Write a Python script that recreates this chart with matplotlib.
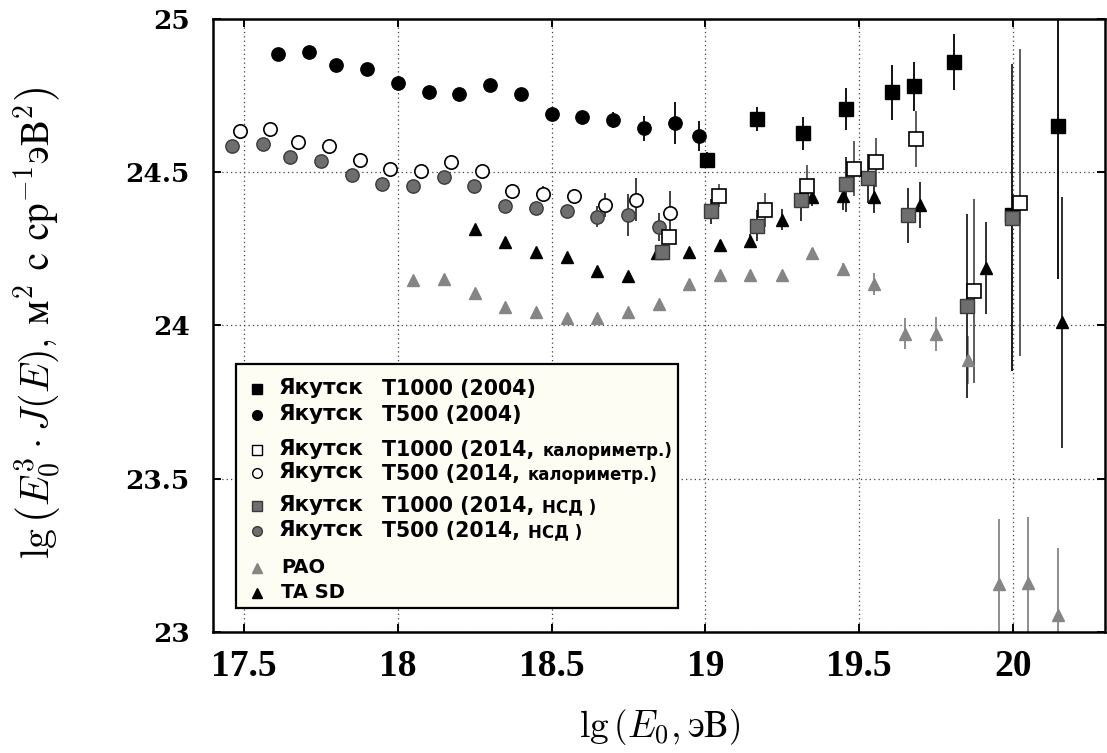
import matplotlib
matplotlib.use('Agg')
import matplotlib.pyplot as plt
from matplotlib.patches import Rectangle

plt.rcParams['mathtext.fontset'] = 'cm'

# Якутск T500 (2004)
x_t500_2004 = [17.61, 17.71, 17.80, 17.90, 18.00, 18.10, 18.20, 18.30, 18.40, 18.50, 18.60, 18.70, 18.80, 18.90, 18.98]
y_t500_2004 = [24.885, 24.891, 24.849, 24.836, 24.790, 24.761, 24.754, 24.785, 24.754, 24.691, 24.679, 24.671, 24.643, 24.660, 24.618]
e_t500_2004 = [0, 0, 0, 0, 0, 0, 0, 0, 0, 0.01, 0.01, 0.027, 0.04, 0.068, 0.05]

# Якутск T1000 (2004)
x_t1000_2004 = [19.006, 19.169, 19.317, 19.459, 19.608, 19.679, 19.808, 19.999, 20.147]
y_t1000_2004 = [24.540, 24.673, 24.627, 24.707, 24.761, 24.780, 24.859, 24.361, 24.651]
elo_t1000_2004 = [0.027, 0.04, 0.053, 0.068, 0.09, 0.08, 0.092, 0.51, 0.50]
ehi_t1000_2004 = [0.027, 0.04, 0.053, 0.068, 0.09, 0.08, 0.092, 0.30, 0.45]

# Якутск T1000 (2014, калориметр.)
x_t1000_cal = [18.882, 19.044, 19.193, 19.332, 19.484, 19.554, 19.684, 19.873, 20.023]
y_t1000_cal = [24.290, 24.423, 24.377, 24.455, 24.511, 24.532, 24.609, 24.113, 24.401]
e_t1000_cal = [0.02, 0.037, 0.055, 0.07, 0.09, 0.08, 0.092, 0.30, 0.50]

# Якутск T500 (2014, калориметр.)
x_t500_cal = [17.486, 17.585, 17.675, 17.775, 17.876, 17.974, 18.074, 18.174, 18.274, 18.373, 18.473, 18.574, 18.674, 18.774, 18.884]
y_t500_cal = [24.635, 24.640, 24.598, 24.586, 24.540, 24.511, 24.504, 24.535, 24.504, 24.440, 24.430, 24.421, 24.393, 24.410, 24.368]
e_t500_cal = [0.02, 0, 0, 0.01, 0, 0, 0, 0.02, 0.02, 0.02, 0.025, 0.025, 0.04, 0.07, 0.07]

# Якутск T1000 (2014, НСД)
x_t1000_nsd = [18.858, 19.018, 19.169, 19.310, 19.459, 19.529, 19.659, 19.850, 19.999]
y_t1000_nsd = [24.241, 24.372, 24.326, 24.408, 24.461, 24.480, 24.359, 24.064, 24.352]
e_t1000_nsd = [0.015, 0.04, 0.05, 0.068, 0.09, 0.08, 0.09, 0.30, 0.50]

# Якутск T500 (2014, НСД)
x_t500_nsd = [17.461, 17.560, 17.649, 17.750, 17.850, 17.950, 18.050, 18.149, 18.249, 18.348, 18.449, 18.550, 18.649, 18.749, 18.850]
y_t500_nsd = [24.584, 24.592, 24.551, 24.536, 24.491, 24.462, 24.455, 24.486, 24.455, 24.391, 24.383, 24.372, 24.355, 24.361, 24.321]
e_t500_nsd = [0, 0, 0, 0, 0, 0, 0, 0, 0, 0, 0, 0.02, 0.035, 0.068, 0.046]

# PAO
x_pao = [18.049, 18.149, 18.25, 18.348, 18.448, 18.549, 18.648, 18.749, 18.85, 18.948, 19.048,
         19.147, 19.25, 19.347, 19.448, 19.549, 19.649, 19.749, 19.854, 19.955, 20.049, 20.146]
y_pao = [24.149, 24.152, 24.105, 24.059, 24.043, 24.026, 24.026, 24.043, 24.070, 24.134, 24.165,
         24.165, 24.165, 24.238, 24.183, 24.136, 23.973, 23.973, 23.888, 23.158, 23.160, 23.054]
e_pao = [0, 0, 0, 0, 0, 0, 0, 0, 0, 0, 0, 0, 0.01, 0.015, 0.02, 0.035, 0.05, 0.055, 0.078, 0.21, 0.215, 0.22]

# TA SD
x_ta = [18.25, 18.348, 18.449, 18.550, 18.649, 18.749, 18.844, 18.948, 19.048, 19.147, 19.25,
        19.347, 19.448, 19.549, 19.698, 19.913, 20.160]
y_ta = [24.316, 24.274, 24.239, 24.225, 24.179, 24.160, 24.236, 24.239, 24.263, 24.277, 24.345,
        24.42, 24.423, 24.418, 24.393, 24.187, 24.010]
e_ta = [0.01, 0.01, 0.01, 0.01, 0.01, 0.01, 0.01, 0.01, 0.015, 0.02, 0.035, 0.03, 0.045, 0.05, 0.075, 0.15, 0.41]

xticks = [17.5, 18, 18.5, 19, 19.5, 20]
xticklabels = ['17.5', '18', '18.5', '19', '19.5', '20']
yticks = [23, 23.5, 24, 24.5, 25]
yticklabels = ['23', '23.5', '24', '24.5', '25']

gray = '#6e6e6e'
pao_gray = '#858585'

fig = plt.figure(figsize=(11.07, 7.53), dpi=100)
ax = fig.add_axes([0.1927, 0.1607, 0.8055, 0.8141])
ax.set_xlim(17.4, 20.3)
ax.set_ylim(23, 25)


def ebar(x, y, err, marker, ms, fc, ec, lc, mew=1.0):
    ax.errorbar(x, y, yerr=err, fmt=marker, ms=ms, mfc=fc, mec=ec, mew=mew,
                ecolor=lc, elinewidth=1.3, capsize=0, linestyle='none')


ebar(x_pao, y_pao, e_pao, '^', 9, pao_gray, pao_gray, pao_gray)
ebar(x_ta, y_ta, e_ta, '^', 9, 'black', 'black', '#202020')
ebar(x_t1000_2004, y_t1000_2004, [elo_t1000_2004, ehi_t1000_2004], 's', 9.5, 'black', 'black', 'black')
ebar(x_t500_2004, y_t500_2004, e_t500_2004, 'o', 9.6, 'black', 'black', 'black')
ebar(x_t500_cal, y_t500_cal, e_t500_cal, 'o', 9.6, 'white', 'black', '#303030', 1.2)
ebar(x_t500_nsd, y_t500_nsd, e_t500_nsd, 'o', 9.6, gray, '#3a3a3a', '#303030')
ebar(x_t1000_nsd, y_t1000_nsd, e_t1000_nsd, 's', 9.5, gray, '#3a3a3a', '#202020')
ebar(x_t1000_cal, y_t1000_cal, e_t1000_cal, 's', 9.5, 'white', 'black', '#505050', 1.2)

ax.set_xticks(xticks)
ax.set_xticklabels(xticklabels, fontfamily='Liberation Serif', fontweight='bold', fontsize=27)
ax.set_yticks(yticks)
ax.set_yticklabels(yticklabels, fontfamily='DejaVu Serif', fontweight='bold', fontsize=19)
ax.tick_params(direction='in', top=True, right=True, length=6, width=1.4)
ax.tick_params(axis='x', pad=12)
ax.tick_params(axis='y', pad=17)
ax.grid(True, color='0.25', linestyle=(0, (1, 2.5)), linewidth=0.9)
ax.set_axisbelow(True)
for s in ax.spines.values():
    s.set_linewidth(1.8)

fig.text(0.596, 0.0345, r'$\mathrm{lg}\,\left(E_0, \mathrm{эВ}\right)$', fontsize=27,
         ha='center', va='center')
fig.text(0.034, 0.571,
         r'$\mathrm{lg}\,\left(E_0^3\cdot J(E),\,\mathrm{м}^2\ \mathrm{с}\ \mathrm{ср}^{-1}\mathrm{эВ}^2\right)$',
         fontsize=28.5, rotation=90, ha='center', va='center')

# legend box, drawn by hand because of the mixed fonts
ax.add_patch(Rectangle((0.0255, 0.0392), 0.4956, 0.398, transform=ax.transAxes,
                       facecolor='#fdfdf3', edgecolor='black', linewidth=1.6, zorder=5))

leg_rows = [
    ('s', 'black', 'black', 'Якутск', 'T1000 (2004)', None),
    ('o', 'black', 'black', 'Якутск', 'T500 (2004)', None),
    ('s', 'white', 'black', 'Якутск', 'T1000 (2014,', 'калориметр.)'),
    ('o', 'white', 'black', 'Якутск', 'T500 (2014,', 'калориметр.)'),
    ('s', gray, '#3a3a3a', 'Якутск', 'T1000 (2014,', 'НСД )'),
    ('o', gray, '#3a3a3a', 'Якутск', 'T500 (2014,', 'НСД )'),
    ('^', pao_gray, pao_gray, 'PAO', None, None),
    ('^', 'black', 'black', 'TA SD', None, None),
]
leg_base = [394, 420, 455, 478.5, 511, 536, 572.7, 598.3]


def fy(py):
    return (632 - py) / 613


pending = []
for (mk, fc, ec, name, part, suffix), b in zip(leg_rows, leg_base):
    ax.plot([0.0487], [fy(b - 5)], marker=mk, ms=7, mfc=fc, mec=ec, mew=1.0,
            transform=ax.transAxes, zorder=6, clip_on=False, linestyle='none')
    if part is None:
        ax.text(0.0759, fy(b), name, transform=ax.transAxes, fontsize=14,
                fontweight='bold', fontfamily='DejaVu Sans', va='baseline', zorder=6)
        continue
    ax.text(0.0729, fy(b), name, transform=ax.transAxes, fontsize=15.5,
            fontweight='bold', fontfamily='DejaVu Sans', va='baseline', zorder=6)
    t = ax.text(0.189, fy(b + 1.5), part, transform=ax.transAxes, fontsize=14.8,
                fontweight='bold', fontfamily='DejaVu Sans', va='baseline', zorder=6)
    if suffix:
        pending.append((t, suffix, fy(b + 1.5)))

fig.canvas.draw()
r = fig.canvas.get_renderer()
for t, suffix, yb in pending:
    bb = t.get_window_extent(r)
    xa = ax.transAxes.inverted().transform((bb.x1 + 8, 0))[0]
    ax.text(xa, yb, suffix, transform=ax.transAxes, fontsize=12,
            fontweight='bold', fontfamily='DejaVu Sans', va='baseline', zorder=6)

fig.savefig('out.png', dpi=100)
